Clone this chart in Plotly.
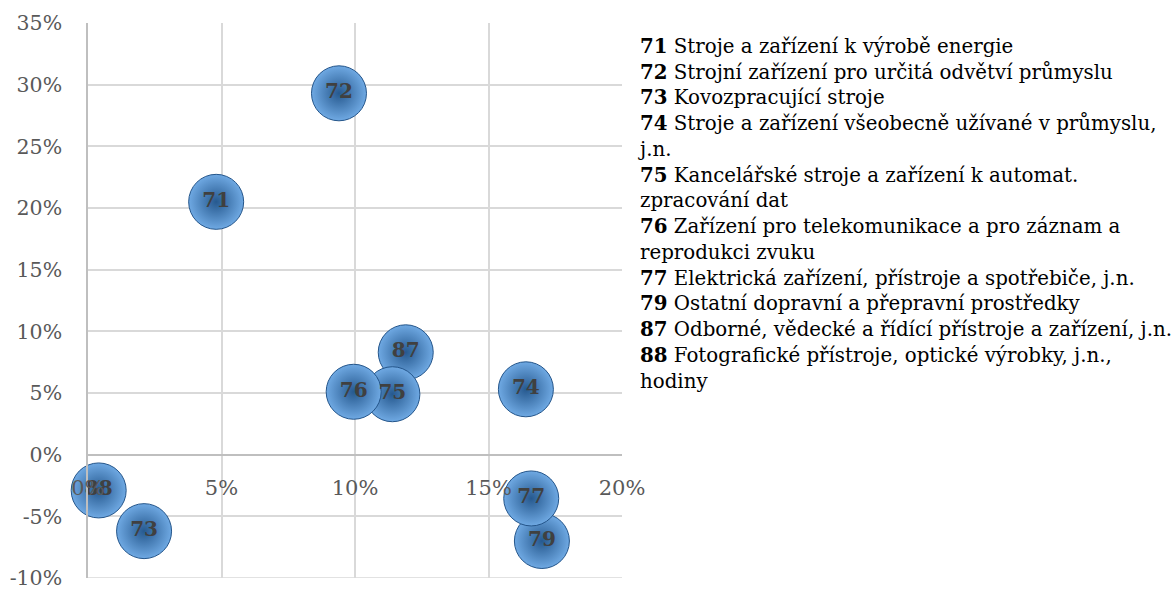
import plotly.graph_objects as go

# ---- data ----
codes = ["71", "72", "73", "74", "79", "77", "87", "75", "76", "88"]
x_growth = [0.048, 0.094, 0.021, 0.164, 0.170, 0.166, 0.119, 0.114, 0.0995, 0.004]
y_growth = [0.205, 0.293, -0.062, 0.053, -0.070, -0.0355, 0.083, 0.049, 0.051, -0.029]

legend_codes = ["71", "72", "73", "74", "75", "76", "77", "79", "87", "88"]
legend_lines = [
    "Stroje a zařízení k výrobě energie",
    "Strojní zařízení pro určitá odvětví průmyslu",
    "Kovozpracující stroje",
    "Stroje a zařízení všeobecně užívané v průmyslu,<br>j.n.",
    "Kancelářské stroje a zařízení k automat.<br>zpracování dat",
    "Zařízení pro telekomunikace a pro záznam a<br>reprodukci zvuku",
    "Elektrická zařízení, přístroje a spotřebiče, j.n.",
    "Ostatní dopravní a přepravní prostředky",
    "Odborné, vědecké a řídící přístroje a zařízení, j.n.",
    "Fotografické přístroje, optické výrobky, j.n.,<br>hodiny",
]

x_ticks = [0, 0.05, 0.10, 0.15, 0.20]
x_tick_labels = ["0%", "5%", "10%", "15%", "20%"]
y_ticks = [-0.10, -0.05, 0, 0.05, 0.10, 0.15, 0.20, 0.25, 0.30, 0.35]
y_tick_labels = ["-10%", "-5%", "0%", "5%", "10%", "15%", "20%", "25%", "30%", "35%"]

FONT = "DejaVu Serif"
GRID = "#d9d9d9"

fig = go.Figure()
fig.add_trace(go.Scatter(
    x=x_growth, y=y_growth, text=codes,
    mode="markers+text",
    textposition="middle center",
    textfont=dict(family=FONT, size=20, color="#404040", weight="bold"),
    marker=dict(
        size=55,
        color="#6fa9e3",
        gradient=dict(type="radial", color="#26598f"),
        line=dict(color="#24558a", width=1),
        opacity=1,
    ),
    hoverinfo="skip",
    cliponaxis=False,
    showlegend=False,
))

legend_text = "<br>".join(f"<b>{c}</b> {t}" for c, t in zip(legend_codes, legend_lines))
fig.add_annotation(
    xref="paper", yref="paper", x=1.026, y=0.984,
    xanchor="left", yanchor="top", align="left",
    text=legend_text, showarrow=False,
    font=dict(family=FONT, size=19.8, color="#000000"),
)

ymin, ymax = -0.10, 0.35
eps = 1e-7
# bottom border gridline of the plot area
fig.add_shape(type="line", xref="paper", yref="y", x0=0, x1=1, y0=ymin, y1=ymin,
              line=dict(color=GRID, width=1.5), layer="below")

fig.update_layout(
    width=1172, height=590,
    margin=dict(l=88, r=550, t=23, b=12),
    paper_bgcolor="white", plot_bgcolor="white",
    xaxis=dict(
        range=[0 - eps, 0.20 + eps], tickvals=x_ticks, ticktext=x_tick_labels,
        showgrid=True, gridcolor=GRID, gridwidth=1.5,
        zeroline=False, showline=True, linecolor="#bfbfbf", linewidth=1.5,
        anchor="free", position=(0 - ymin) / (ymax - ymin),
        ticks="", ticklabelstandoff=14, ticklabeloverflow="allow",
        tickfont=dict(family=FONT, size=21, color="#595959"),
        mirror=False, automargin=False,
    ),
    yaxis=dict(
        range=[ymin - eps, ymax + eps], tickvals=y_ticks, ticktext=y_tick_labels,
        showgrid=True, gridcolor=GRID, gridwidth=1.5,
        zeroline=False, showline=True, linecolor="#bfbfbf", linewidth=1.5,
        ticks="", ticklabelstandoff=20, ticklabeloverflow="allow",
        tickfont=dict(family=FONT, size=20.5, color="#595959"),
        automargin=False,
    ),
)

fig.write_html(
    "out.html",
    config={"displayModeBar": False},
    post_script="document.body.style.margin='0';document.body.style.padding='0';",
)
